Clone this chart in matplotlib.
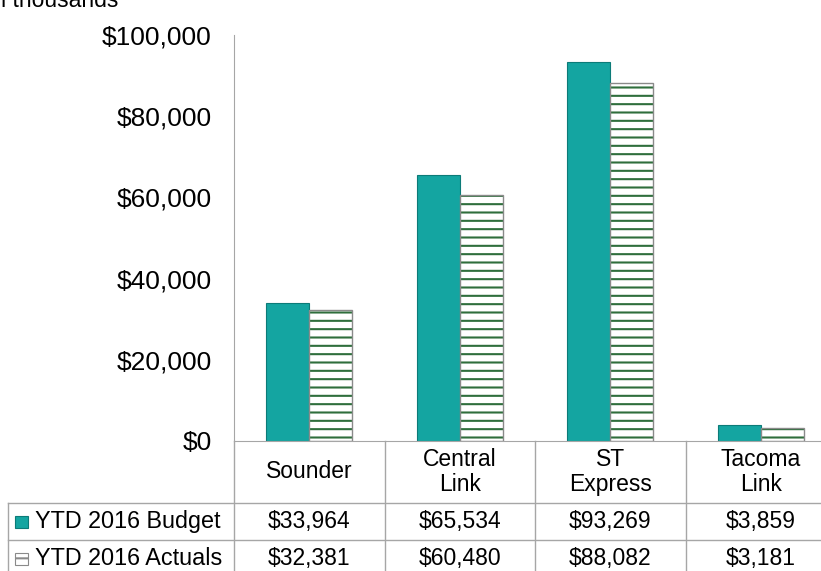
import matplotlib
matplotlib.use("Agg")
import matplotlib.pyplot as plt
from matplotlib.lines import Line2D
from matplotlib.patches import Rectangle
from matplotlib.ticker import FuncFormatter
from matplotlib import transforms

plt.rcParams['font.family'] = ['Liberation Sans', 'DejaVu Sans']
plt.rcParams['hatch.linewidth'] = 1.5

categories = ['Sounder', 'Central\nLink', 'ST\nExpress', 'Tacoma\nLink']
budget = [33964, 65534, 93269, 3859]
actuals = [32381, 60480, 88082, 3181]
series_names = ['YTD 2016 Budget', 'YTD 2016 Actuals']

W, H = 821, 571
teal, teal_dark = '#14A5A1', '#0C7B78'
hatch_green = '#2F6E3C'
grid_gray = '#A6A6A6'

def fx(px): return px / W
def fy(py): return 1 - py / H

fig = plt.figure(figsize=(W / 100, H / 100), dpi=100)
ax = fig.add_axes([fx(234), fy(441), fx(821) - fx(234), fy(35) - fy(441)])

x = list(range(len(categories)))
w = 0.285
ax.bar([i - w / 2 for i in x], budget, width=w, color=teal, edgecolor=teal_dark, linewidth=0.8)
ax.bar([i + w / 2 for i in x], actuals, width=w, color='white', edgecolor=hatch_green,
       hatch='--', linewidth=0)
ax.bar([i + w / 2 for i in x], actuals, width=w, fill=False, edgecolor='#8A8A8A', linewidth=1)

ax.set_xlim(-0.5, 3.5 - 15 / 150.5)
ax.set_ylim(0, 100000)
ax.set_yticks(range(0, 100001, 20000))
ax.yaxis.set_major_formatter(FuncFormatter(lambda v, p: '${:,.0f}'.format(v)))
ax.tick_params(axis='y', length=0, pad=16, labelsize=19)
ax.set_xticks([])
for s in ['top', 'right']:
    ax.spines[s].set_visible(False)
ax.spines['left'].set_color(grid_gray)
ax.spines['bottom'].set_color(grid_gray)

# table under the chart
bt = transforms.blended_transform_factory(ax.transData, fig.transFigure)
for i in range(len(categories)):
    fig.add_artist(Line2D([i - 0.5, i - 0.5], [fy(441), fy(577)], transform=bt,
                          color=grid_gray, lw=1))
for yy in [503, 540]:
    fig.add_artist(Line2D([fx(8), 1], [fy(yy), fy(yy)], transform=fig.transFigure,
                          color=grid_gray, lw=1))
fig.add_artist(Line2D([fx(8), fx(8)], [fy(503), fy(577)], transform=fig.transFigure,
                      color=grid_gray, lw=1))

for i, c in enumerate(categories):
    fig.text(i, fy(472), c, transform=bt, ha='center', va='center', fontsize=16.5,
             linespacing=1.1)
    fig.text(i, fy(521.5), '${:,}'.format(budget[i]), transform=bt, ha='center',
             va='center', fontsize=16.5)
    fig.text(i, fy(558.5), '${:,}'.format(actuals[i]), transform=bt, ha='center',
             va='center', fontsize=16.5)

for k, (name, yc) in enumerate(zip(series_names, [521.5, 558.5])):
    fig.text(fx(35), fy(yc), name, ha='left', va='center', fontsize=16.8)
    if k == 0:
        sw = Rectangle((fx(15), fy(yc + 6)), fx(13), fy(yc - 6) - fy(yc + 6),
                       transform=fig.transFigure, facecolor=teal, edgecolor=teal_dark, lw=0.8)
    else:
        sw = Rectangle((fx(15), fy(yc + 6)), fx(13), fy(yc - 6) - fy(yc + 6),
                       transform=fig.transFigure, facecolor='white', edgecolor='#8A8A8A',
                       lw=0.8, hatch='-')
    fig.add_artist(sw)

fig.text(fx(118), fy(7), 'In thousands', ha='right', va='baseline', fontsize=16.5)

fig.savefig('out.png', dpi=100)
